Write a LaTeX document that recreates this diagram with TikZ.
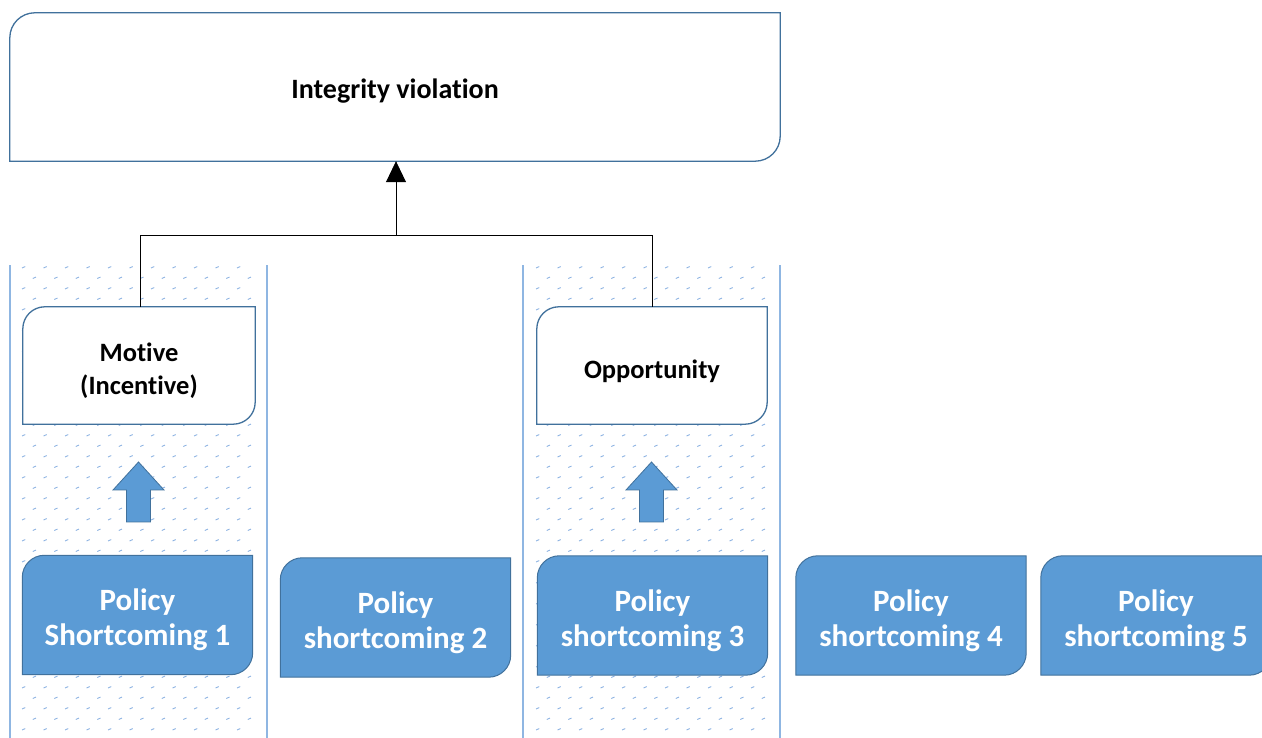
\documentclass[tikz,border=0pt]{standalone}
\usepackage{fontspec}
\setmainfont{Carlito}[RawFeature=-liga]
\usetikzlibrary{arrows.meta,calc}
\definecolor{boxblue}{HTML}{5B9BD5}
\definecolor{edgeblue}{HTML}{41719C}
\definecolor{colline}{HTML}{8FB6E2}
\definecolor{dotblue}{HTML}{8DB3E2}
\pgfdeclarelayer{pat}
\pgfdeclarelayer{boxes}
\pgfsetlayers{pat,boxes,main}
\tikzset{
  txtbox/.style={inner sep=0pt},
  lbl/.style={inner sep=0pt, align=center, yshift=-5pt},
  whiteshape/.style={fill=white, draw=edgeblue, line width=1.3pt},
  blueshape/.style={fill=boxblue, draw=edgeblue, line width=1pt},
  conn/.style={draw=black, line width=0.8pt},
  colrule/.style={draw=colline, line width=1.5pt},
  dash mark/.style={draw=dotblue, line width=0.9pt},
}
\newcommand\cutbox[3]{%
  \begin{pgfonlayer}{boxes}
  \path[#3] ([yshift=-#2]#1.north west) arc[start angle=180,end angle=90,radius=#2]
    -- (#1.north east) -- ([yshift=#2]#1.south east)
    arc[start angle=0,end angle=-90,radius=#2] -- (#1.south west) -- cycle;
  \end{pgfonlayer}}
\newcommand\dotcolumn[2]{%
  \begin{pgfonlayer}{pat}
  \foreach \r in {0,...,44} {
    \pgfmathsetmacro\yy{470-10.5*\r}
    \pgfmathsetmacro\off{mod(\r,2)*10.75}
    \foreach \c in {0,...,10} {
      \pgfmathsetmacro\xx{#1+\off+21.5*\c}
      \ifdim\xx pt<#2pt
        \draw[dash mark] (\xx pt,\yy pt) -- ++(3.2pt,1.4pt);
      \fi
    }
  }
  \end{pgfonlayer}}
\begin{document}
\begin{tikzpicture}[x=1pt,y=1pt]
\useasboundingbox (0,0) rectangle (1262,738);
% columns
\dotcolumn{22}{258}
\dotcolumn{536}{772}
\draw[colrule] (10,0) -- (10,473);
\draw[colrule] (267,0) -- (267,473);
\draw[colrule] (523,0) -- (523,473);
\draw[colrule] (780,0) -- (780,473);
% top box
\node[txtbox, minimum width=770pt, minimum height=148pt,
  label={[lbl, yshift=1pt, font=\bfseries\fontsize{28}{34}\selectfont]center:Integrity violation}] (top) at (395,651) {};
\cutbox{top}{25pt}{whiteshape}
% motive / opportunity
\node[txtbox, minimum width=232pt, minimum height=117pt,
  label={[lbl, font=\bfseries\fontsize{26.5}{33}\selectfont]center:{Motive\\(Incentive)}}] (mot) at (139,372.5) {};
\cutbox{mot}{22pt}{whiteshape}
\node[txtbox, minimum width=230pt, minimum height=117pt,
  label={[lbl, yshift=-1pt, font=\bfseries\fontsize{26.5}{33}\selectfont]center:Opportunity}] (opp) at (652,372.5) {};
\cutbox{opp}{22pt}{whiteshape}
% policy boxes
\tikzset{pol/.style={txtbox, minimum width=230pt, minimum height=119pt},
  pollbl/.style={lbl, text=white, font=\bfseries\fontsize{31}{35}\selectfont}}
\node[pol, label={[pollbl]center:{Policy\\Shortcoming 1}}] (p1) at (137.5,123) {};
\cutbox{p1}{22pt}{blueshape}
\node[pol, label={[pollbl]center:{Policy\\shortcoming 2}}] (p2) at (395.5,120.5) {};
\cutbox{p2}{22pt}{blueshape}
\node[pol, label={[pollbl]center:{Policy\\shortcoming 3}}] (p3) at (652.5,122.5) {};
\cutbox{p3}{22pt}{blueshape}
\node[pol, label={[pollbl]center:{Policy\\shortcoming 4}}] (p4) at (911,122.5) {};
\cutbox{p4}{22pt}{blueshape}
\node[pol, label={[pollbl]center:{Policy\\shortcoming 5}}] (p5) at (1156,122.5) {};
\cutbox{p5}{22pt}{blueshape}
% block arrows
\foreach \cx in {138.5,651.5} {
  \path[blueshape, line width=0.8pt] (\cx-12,216) -- (\cx+12,216) -- (\cx+12,248) -- (\cx+25.5,248)
    -- (\cx,276) -- (\cx-25.5,248) -- (\cx-12,248) -- cycle;
}
% connectors
\coordinate (j) at (396,503);
\draw[conn, -{Triangle[length=21pt,width=20pt]}] (j) -- (j |- top.south);
\draw[conn] (mot.north -| 140,0) |- (j) -| (opp.north);
\end{tikzpicture}
\end{document}
